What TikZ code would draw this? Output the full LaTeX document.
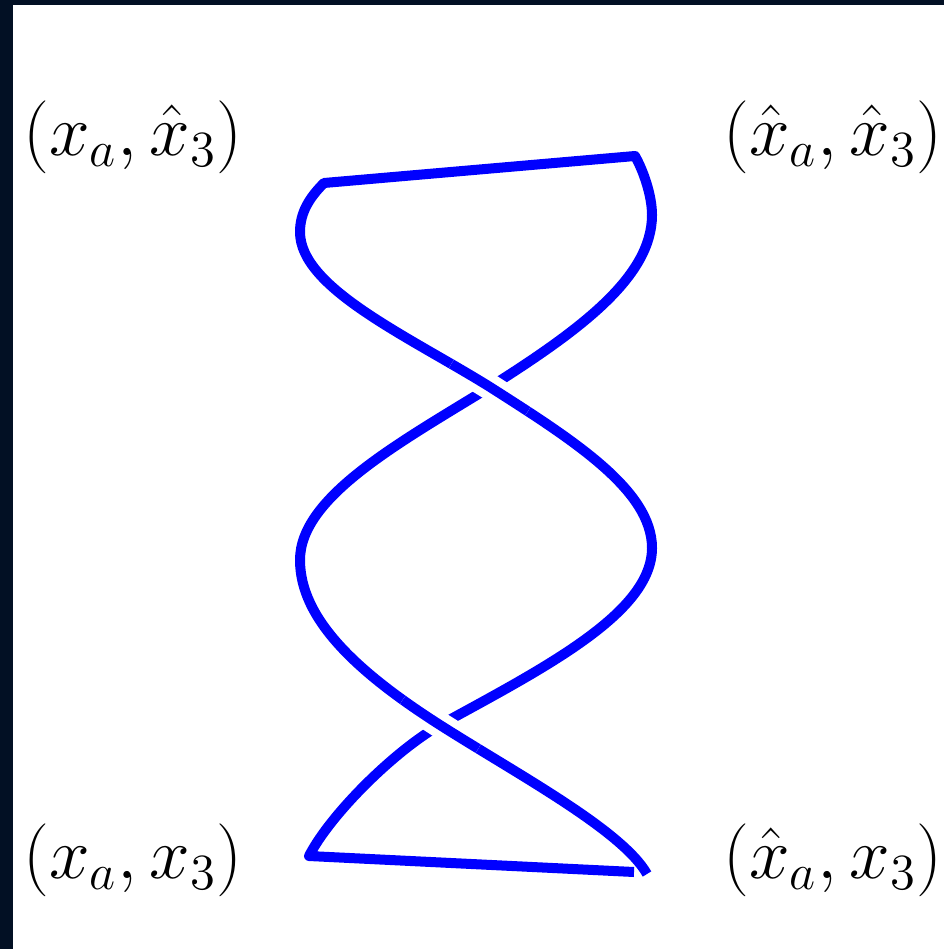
\documentclass[tikz,border=0pt]{standalone}
\begin{document}
\begin{tikzpicture}[x=0.01cm,y=-0.01cm,
  strand/.style={draw=helixblue,line width=0.1cm,line join=round},
  gapline/.style={draw=white,line width=0.26cm},
  lbl/.style={inner sep=0pt,font=\fontsize{20}{24}\selectfont}]
\definecolor{helixblue}{RGB}{0,0,255}
\definecolor{navyedge}{RGB}{2,16,36}
\useasboundingbox (0,0) rectangle (944,949);
\fill[white] (0,0) rectangle (944,949);
\fill[navyedge] (0,0) rectangle (944,5);
\fill[navyedge] (0,0) rectangle (13,949);
% key points
\coordinate (TL) at (324,183);
\coordinate (TR) at (635,156);
\coordinate (BL) at (309,856);
\coordinate (BR) at (634,872);
\coordinate (E2) at (647,874);
\coordinate (C1) at (490,387);
\coordinate (C2) at (440,725);
\coordinate (M2) at (652,215);
\coordinate (N2) at (300,560);
\coordinate (N1) at (300,232);
\coordinate (M1) at (652,548);
% strand two: from top right down to bottom right
\def\strandtwo{(TR) .. controls (643,170) and (652,195) .. (M2)
  .. controls (652,277) and (580,330) .. (C1)
  .. controls (399,443) and (300,497) .. (N2)
  .. controls (300,619) and (357,672) .. (C2)
  .. controls (517,774) and (622,830) .. (E2)}
% strand one: from top left down to bottom left
\def\strandone{(TL) .. controls (310,197) and (300,212) .. (N1)
  .. controls (300,288) and (408,336) .. (C1)
  .. controls (573,440) and (652,490) .. (M1)
  .. controls (652,613) and (544,668) .. (C2)
  .. controls (393,752) and (330,815) .. (BL)}
\draw[strand] (E2) .. controls (622,830) and (517,774) .. (C2)
  .. controls (357,672) and (300,619) .. (N2)
  .. controls (300,497) and (399,443) .. (C1)
  .. controls (580,330) and (652,277) .. (M2)
  .. controls (652,195) and (643,170) .. (TR)
  -- (TL)
  .. controls (310,197) and (300,212) .. (N1)
  .. controls (300,288) and (408,336) .. (C1)
  .. controls (573,440) and (652,490) .. (M1)
  .. controls (652,613) and (544,668) .. (C2)
  .. controls (393,752) and (330,815) .. (BL)
  -- (BR);
% crossing 1: strand one over
\begin{scope}
\clip (C1) circle (45);
\draw[gapline] \strandone;
\draw[strand] \strandone;
\end{scope}
% crossing 2: strand two over
\begin{scope}
\clip (C2) circle (45);
\draw[gapline] \strandtwo;
\draw[strand] \strandtwo;
\end{scope}
% labels
\node[lbl] (ltl) at (133,137) {$(x_a,\hat{x}_3)$};
\node[lbl] (ltr) at (833,137) {$(\hat{x}_a,\hat{x}_3)$};
\node[lbl] (lbl) at (133,860) {$(x_a,x_3)$};
\node[lbl] (lbr) at (833,860) {$(\hat{x}_a,x_3)$};
\end{tikzpicture}
\end{document}
